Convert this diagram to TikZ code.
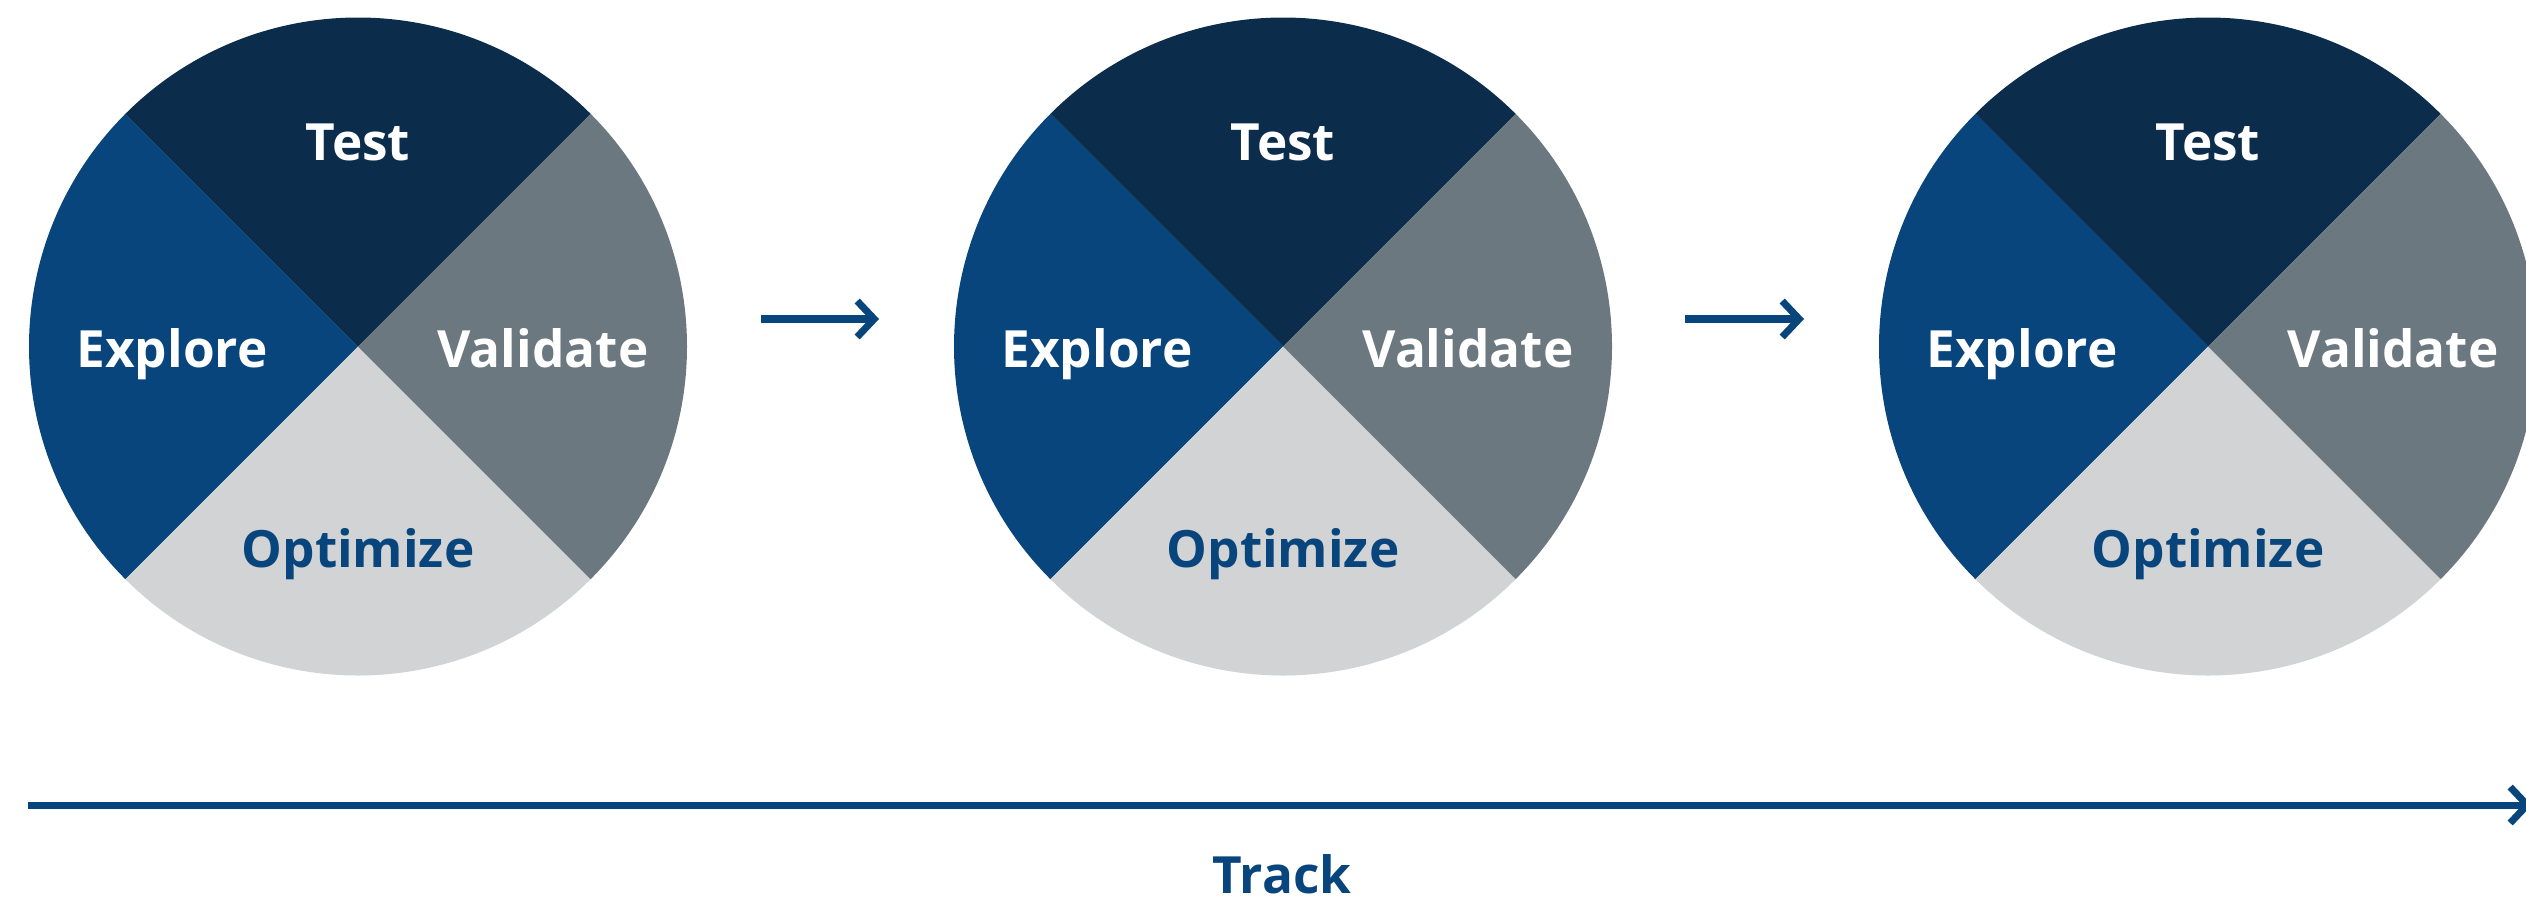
\documentclass[tikz,border=0pt]{standalone}
\usepackage{xcolor}
\usepackage{fontspec}
\setmainfont{Open Sans}
\usepackage{tikz}
\usetikzlibrary{calc, arrows.meta}

\definecolor{testnavy}{HTML}{0B2C4A}
\definecolor{exploreblue}{HTML}{08457C}
\definecolor{validategrey}{HTML}{6C7880}
\definecolor{optimizegrey}{HTML}{D1D3D4}

\begin{document}
\begin{tikzpicture}[
		phase/.style = {font = \fontsize{14.6}{18}\selectfont\bfseries, text = white, inner sep = 0pt, anchor = base},
		flow/.style = {draw = exploreblue, line width = 2pt, -{Straight Barb[length = 1.7mm, width = 3.6mm]}}
	]
		\def\r{3.29};
		\def\h{5.555};
		
		\useasboundingbox (0,0) rectangle (25.26,9.02);
		\clip (0,0) rectangle (25.26,9.02);
		
		\foreach \x/\n in {3.58/1, 12.83/2, 22.08/3} {
			\coordinate (c\n) at (\x,\h);
			
			\fill[testnavy] (c\n) -- ++(45:\r) arc [start angle = 45, end angle = 135, radius = \r] -- cycle;
			\fill[exploreblue] (c\n) -- ++(135:\r) arc [start angle = 135, end angle = 225, radius = \r] -- cycle;
			\fill[optimizegrey] (c\n) -- ++(225:\r) arc [start angle = 225, end angle = 315, radius = \r] -- cycle;
			\fill[validategrey] (c\n) -- ++(315:\r) arc [start angle = 315, end angle = 405, radius = \r] -- cycle;
			
			\node[phase] (test\n) at ($(c\n) + (0,1.865)$) {Test};
			\node[phase] (explore\n) at ($(c\n) + (-1.86,-0.205)$) {Explore};
			\node[phase] (validate\n) at ($(c\n) + (1.85,-0.205)$) {Validate};
			\node[phase, text = exploreblue] (optimize\n) at ($(c\n) + (0,-2.205)$) {Optimize};
		}
		
		% arrows between the cycles
		\coordinate (a1) at (7.61,5.83);
		\coordinate (b1) at (8.79,5.83);
		\coordinate (a2) at (16.85,5.83);
		\coordinate (b2) at (18.04,5.83);
		\draw[flow] (a1) -- (b1);
		\draw[flow] (a2) -- (b2);
		
		% track
		\coordinate (trackstart) at (0.28,0.97);
		\coordinate (trackend) at (25.32,0.97);
		\draw[flow] (trackstart) -- (trackend);
		\node[phase, text = exploreblue] (track) at (12.82,0.09) {Track};
	\end{tikzpicture}
\end{document}
